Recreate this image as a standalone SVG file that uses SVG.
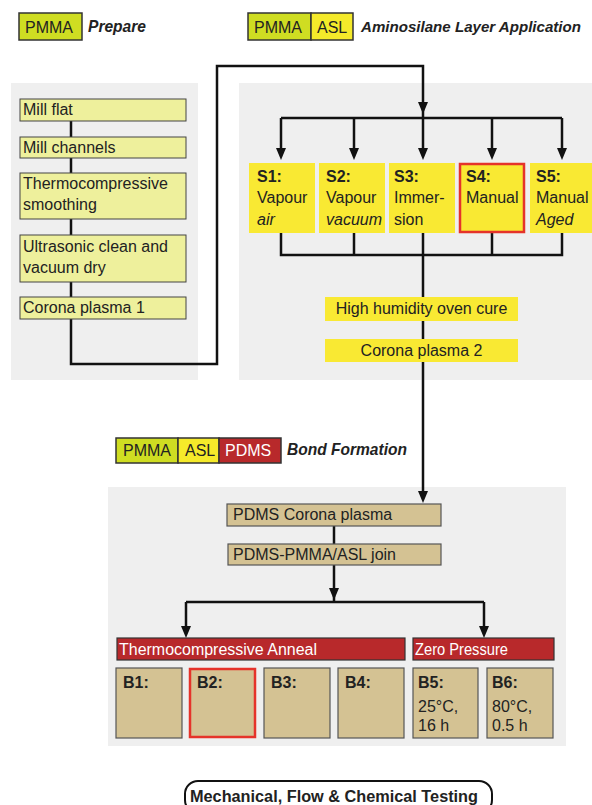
<svg xmlns="http://www.w3.org/2000/svg" width="592" height="805" viewBox="0 0 592 805">
<defs>
<marker id="ah" markerWidth="12" markerHeight="10" refX="4" refY="5" orient="auto" markerUnits="userSpaceOnUse" viewBox="0 0 12 10"><path d="M0,0 L12,5 L0,10 z" fill="#111"/></marker>
<style>
text{font-family:"Liberation Sans",Arial,sans-serif;font-size:16px;fill:#222}
.panel{fill:#efefef}
.pale{fill:#eef09c;stroke:#444;stroke-width:1}
.yel{fill:#f9e933}
.tan{fill:#d4c293;stroke:#555;stroke-width:1.2}
.red{fill:#b8292b;stroke:#333;stroke-width:1.2}
.lg{stroke:#333;stroke-width:1.5}
.hl{stroke:#e5332a;stroke-width:2.5}
.b{font-weight:bold}
.i{font-style:italic}
.w{fill:#fff}
.h{font-style:italic;font-weight:bold;font-size:17px}
.c{fill:none;stroke:#111;stroke-width:2.5}
</style>
</defs>
<rect width="592" height="805" fill="#fff"/>
<g id="panels">
<rect class="panel" x="11" y="83" width="187" height="297"/>
<rect class="panel" x="239" y="83" width="353" height="297"/>
<rect class="panel" x="108" y="487" width="458" height="259"/>
</g>
<g id="legend-prepare">
<rect x="19" y="13" width="63" height="27" fill="#cfdd22" class="lg"/>
<text x="25" y="33" font-size="17">PMMA</text>
<text x="88" y="32" class="h" textLength="58" lengthAdjust="spacingAndGlyphs">Prepare</text>
</g>
<g id="legend-asl">
<rect x="248" y="13" width="63" height="27" fill="#cfdd22" class="lg"/>
<rect x="311" y="13" width="42" height="27" fill="#f5ea2a" class="lg"/>
<text x="254" y="33" font-size="17">PMMA</text>
<text x="317" y="33" font-size="17">ASL</text>
<text x="361" y="32" class="h" font-size="15.2" style="font-size:15.2px" textLength="220" lengthAdjust="spacingAndGlyphs">Aminosilane Layer Application</text>
</g>
<g id="legend-bond">
<rect x="116" y="438" width="62" height="25" fill="#cfdd22" class="lg"/>
<rect x="178" y="438" width="41" height="25" fill="#f5ea2a" class="lg"/>
<rect x="219" y="438" width="62" height="25" fill="#b8292b" class="lg"/>
<text x="123" y="456" font-size="17">PMMA</text>
<text x="185" y="456" font-size="17">ASL</text>
<text x="225" y="456" font-size="17" class="w">PDMS</text>
<text x="287" y="455" class="h" textLength="120" lengthAdjust="spacingAndGlyphs">Bond Formation</text>
</g>
<g id="connectors">
<path class="c" d="M71,121 V364 H217 V66 H423 V106" marker-end="url(#ah)"/>
<path class="c" d="M423,108 V118"/>
<path class="c" d="M281,118 H562"/>
<path class="c" d="M281,118 V152" marker-end="url(#ah)"/>
<path class="c" d="M354,118 V152" marker-end="url(#ah)"/>
<path class="c" d="M423,118 V152" marker-end="url(#ah)"/>
<path class="c" d="M492,118 V152" marker-end="url(#ah)"/>
<path class="c" d="M562,118 V152" marker-end="url(#ah)"/>
<path class="c" d="M281,233 V255 H562 V233 M354,233 V255 M492,233 V255"/>
<path class="c" d="M423,233 V495" marker-end="url(#ah)"/>
<path class="c" d="M334,526 V592" marker-end="url(#ah)"/>
<path class="c" d="M334,596 V602 M186,602 H484"/>
<path class="c" d="M186,602 V630" marker-end="url(#ah)"/>
<path class="c" d="M484,602 V630" marker-end="url(#ah)"/>
</g>
<g id="mill-flat"><rect class="pale" x="20" y="99" width="166" height="22"/><text x="23" y="115">Mill flat</text></g>
<g id="mill-channels"><rect class="pale" x="20" y="137" width="166" height="21"/><text x="23" y="153">Mill channels</text></g>
<g id="thermo-smoothing"><rect class="pale" x="20" y="173" width="166" height="46"/><text x="23" y="189">Thermocompressive</text><text x="23" y="210">smoothing</text></g>
<g id="ultrasonic"><rect class="pale" x="20" y="235" width="166" height="47"/><text x="23" y="252">Ultrasonic clean and</text><text x="23" y="273">vacuum dry</text></g>
<g id="corona1"><rect class="pale" x="20" y="297" width="166" height="22"/><text x="23" y="313">Corona plasma 1</text></g>
<g id="s1"><rect class="yel" x="249" y="163" width="66" height="70"/><text x="257" y="182" class="b">S1:</text><text x="257" y="203">Vapour</text><text x="257" y="225" class="i">air</text></g>
<g id="s2"><rect class="yel" x="319" y="163" width="66" height="70"/><text x="326" y="182" class="b">S2:</text><text x="326" y="203">Vapour</text><text x="326" y="225" class="i">vacuum</text></g>
<g id="s3"><rect class="yel" x="389" y="163" width="66" height="70"/><text x="394" y="182" class="b">S3:</text><text x="394" y="203">Immer-</text><text x="394" y="225">sion</text></g>
<g id="s4"><rect class="yel hl" x="460" y="164" width="64" height="68"/><text x="466" y="182" class="b">S4:</text><text x="466" y="203">Manual</text></g>
<g id="s5"><rect class="yel" x="530" y="163" width="66" height="70"/><text x="536" y="182" class="b">S5:</text><text x="536" y="203">Manual</text><text x="536" y="225" class="i">Aged</text></g>
<g id="oven-cure"><rect class="yel" x="325" y="297" width="193" height="24"/><text x="421.5" y="314" text-anchor="middle">High humidity oven cure</text></g>
<g id="corona2"><rect class="yel" x="325" y="339" width="193" height="23"/><text x="421.5" y="356" text-anchor="middle">Corona plasma 2</text></g>
<g id="pdms-corona"><rect class="tan" x="227" y="504" width="214" height="22"/><text x="233" y="520">PDMS Corona plasma</text></g>
<g id="join"><rect class="tan" x="228" y="544" width="213" height="21"/><text x="233" y="560">PDMS-PMMA/ASL join</text></g>
<g id="anneal"><rect class="red" x="117" y="638" width="288" height="22"/><text x="119" y="655" class="w" textLength="198" lengthAdjust="spacingAndGlyphs">Thermocompressive Anneal</text></g>
<g id="zero-pressure"><rect class="red" x="413" y="638" width="141" height="22"/><text x="415" y="655" class="w" textLength="93" lengthAdjust="spacingAndGlyphs">Zero Pressure</text></g>
<g id="b1"><rect class="tan" x="116" y="668" width="66" height="70"/><text x="123" y="688" class="b">B1:</text></g>
<g id="b2"><rect class="tan hl" x="190" y="669" width="65" height="68"/><text x="197" y="688" class="b">B2:</text></g>
<g id="b3"><rect class="tan" x="264" y="668" width="66" height="70"/><text x="271" y="688" class="b">B3:</text></g>
<g id="b4"><rect class="tan" x="338" y="668" width="66" height="70"/><text x="345" y="688" class="b">B4:</text></g>
<g id="b5"><rect class="tan" x="413" y="668" width="65" height="70"/><text x="418" y="688" class="b">B5:</text><text x="418" y="712">25°C,</text><text x="418" y="731">16 h</text></g>
<g id="b6"><rect class="tan" x="487" y="668" width="66" height="70"/><text x="492" y="688" class="b">B6:</text><text x="492" y="712">80°C,</text><text x="492" y="731">0.5 h</text></g>
<g id="testing"><rect x="185" y="781" width="307" height="32" rx="13" fill="#fff" stroke="#111" stroke-width="2"/><text x="190" y="802" class="b" font-size="17" textLength="288" lengthAdjust="spacingAndGlyphs">Mechanical, Flow &amp; Chemical Testing</text></g>
</svg>
